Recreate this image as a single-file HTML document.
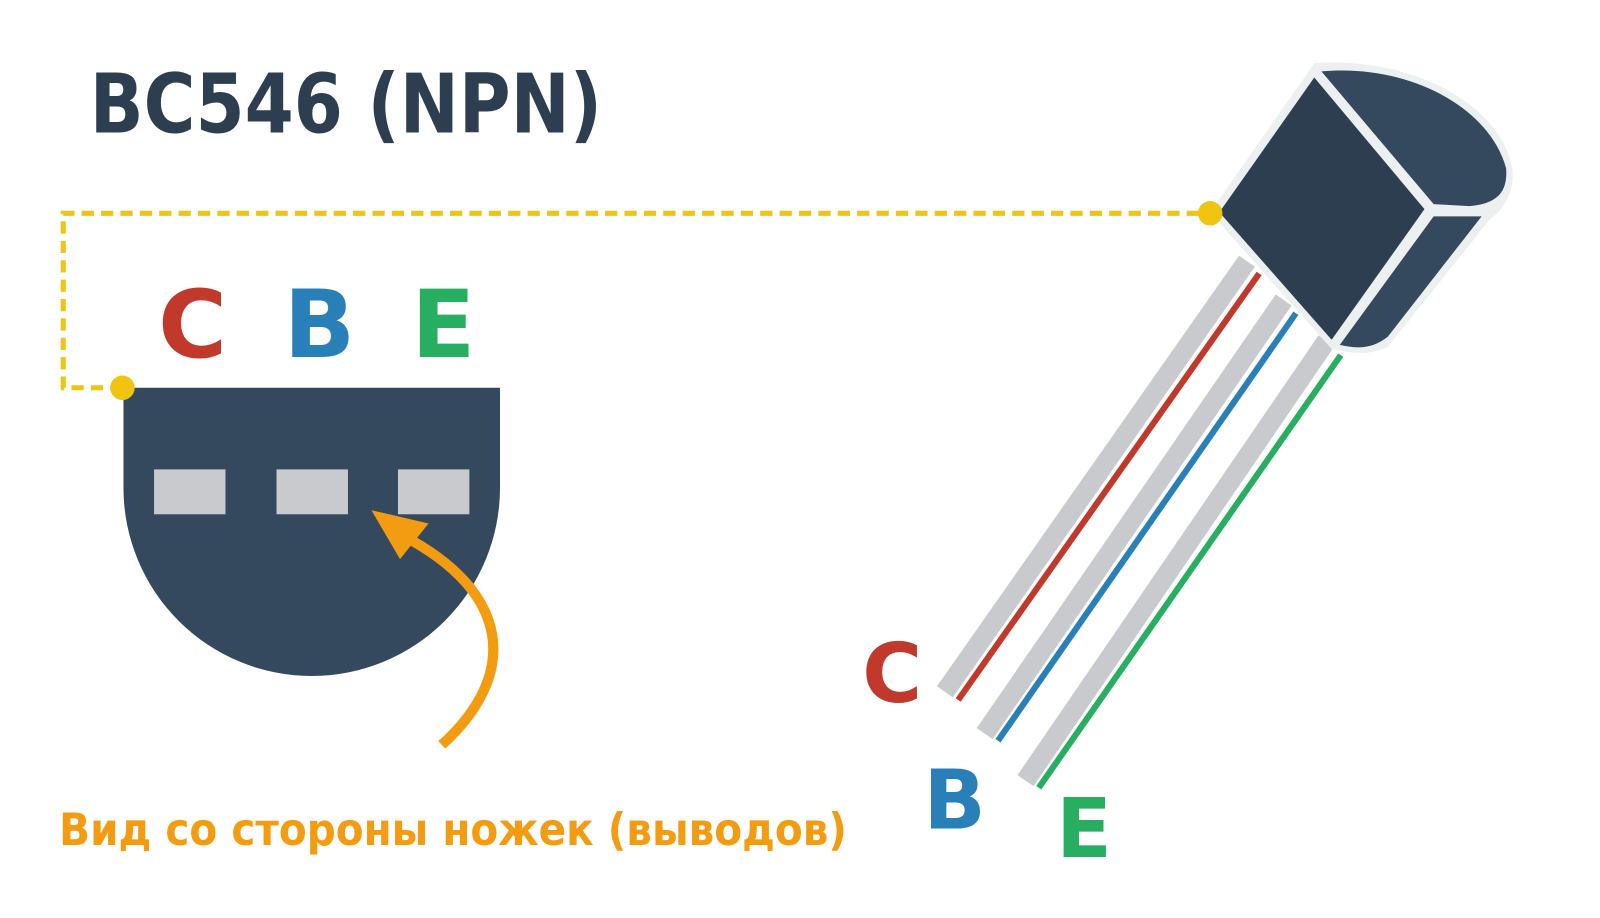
<!DOCTYPE html>
<html><head><meta charset="utf-8"><style>
html,body{margin:0;padding:0;background:#fff;width:1600px;height:918px;overflow:hidden}
text{font-family:"DejaVu Sans","Liberation Sans",sans-serif;font-weight:bold}
</style></head><body>
<svg width="1600" height="918" viewBox="0 0 1600 918" xmlns="http://www.w3.org/2000/svg">
<rect width="1600" height="918" fill="#fff"/>
<g transform="scale(1.0204)">
<text x="88" y="130" font-size="80" fill="#2c3e50" textLength="502" lengthAdjust="spacingAndGlyphs">BC546 (NPN)</text>
<polyline points="120,380 62,380 62,209 1186,209" fill="none" stroke="#f1c40f" stroke-width="5" stroke-dasharray="12,7"/>
<g stroke-linecap="butt">
<line x1="1222" y1="256" x2="926" y2="678" stroke="#c8cacd" stroke-width="19"/>
<line x1="1234" y1="268" x2="939" y2="686" stroke="#c0392b" stroke-width="6"/>
<line x1="1258" y1="294" x2="965" y2="719" stroke="#c8cacd" stroke-width="19"/>
<line x1="1270" y1="307" x2="978" y2="726" stroke="#2980b9" stroke-width="6"/>
<line x1="1300" y1="334" x2="1005" y2="765" stroke="#c8cacd" stroke-width="19"/>
<line x1="1314" y1="348" x2="1018" y2="772" stroke="#27ae60" stroke-width="6"/>
</g>
<path d="M1186,208 L1288,62 C1380,55 1470,100 1482,165 C1485,185 1475,205 1460,215 L1360,340 C1340,350 1320,345 1305,342 Z" fill="#ecf0f1"/>
<path d="M1295,70 C1380,62 1460,105 1476,165 C1478,190 1465,200 1440,202 L1405,200 Z" fill="#34495e"/>
<path d="M1405,212 L1452,212 L1360,330 C1345,342 1330,342 1313,338 Z" fill="#34495e"/>
<path d="M1195,208 L1288,76 L1396,205 L1305,333 Z" fill="#2c3e50"/>
<circle cx="1186" cy="209" r="12" fill="#f1c40f"/>
<path d="M121,380 L490,380 L490,478 A184.5,184.5 0 0 1 121,478 Z" fill="#34495e"/>
<rect x="151" y="460" width="70" height="44" fill="#c8cacd"/>
<rect x="271" y="460" width="70" height="44" fill="#c8cacd"/>
<rect x="390" y="460" width="70" height="44" fill="#c8cacd"/>
<circle cx="120" cy="380" r="12" fill="#f1c40f"/>
<path d="M433,730 C510,660 500,580 395,525" fill="none" stroke="#f39c12" stroke-width="10"/>
<polygon points="364,500 420,513 392,548" fill="#f39c12"/>
<text x="155" y="350" font-size="92" fill="#c0392b">C</text>
<text x="278" y="350" font-size="92" fill="#2980b9">B</text>
<text x="403" y="350" font-size="92" fill="#27ae60">E</text>
<text x="845" y="688" font-size="80" fill="#c0392b">C</text>
<text x="905" y="812" font-size="80" fill="#2980b9">B</text>
<text x="1035" y="840" font-size="80" fill="#27ae60">E</text>
<text x="58" y="828" font-size="44" fill="#f39c12" textLength="772" lengthAdjust="spacingAndGlyphs">Вид со стороны ножек (выводов)</text>
</g>
</svg>
</body></html>
